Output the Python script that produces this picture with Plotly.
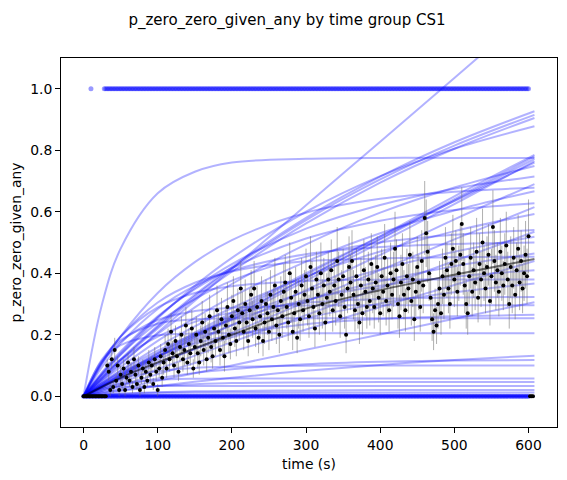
import numpy as np
import plotly.graph_objs as go

KNOT_T = [0, 25, 50, 100, 150, 200, 300, 400, 500, 608]

# one row per fitted curve, values at KNOT_T
CURVES = [
    [0, 0.30, 0.48, 0.66, 0.73, 0.76, 0.772, 0.775, 0.775, 0.775],
    [0, 0.052, 0.104, 0.207, 0.311, 0.414, 0.621, 0.828, 1.035, 1.26],
    [0, 0.061, 0.12, 0.229, 0.33, 0.42, 0.58, 0.714, 0.826, 0.927],
    [0, 0.06, 0.118, 0.225, 0.325, 0.415, 0.573, 0.705, 0.815, 0.915],
    [0, 0.058, 0.115, 0.22, 0.318, 0.405, 0.562, 0.695, 0.805, 0.905],
    [0, 0.07, 0.135, 0.254, 0.359, 0.45, 0.60, 0.716, 0.805, 0.878],
    [0, 0.034, 0.068, 0.135, 0.2, 0.265, 0.395, 0.52, 0.65, 0.785],
    [0, 0.032, 0.064, 0.128, 0.192, 0.256, 0.385, 0.513, 0.641, 0.78],
    [0, 0.033, 0.066, 0.13, 0.195, 0.258, 0.385, 0.51, 0.636, 0.772],
    [0, 0.031, 0.062, 0.125, 0.188, 0.25, 0.376, 0.5, 0.625, 0.765],
    [0, 0.036, 0.071, 0.14, 0.207, 0.272, 0.4, 0.52, 0.635, 0.76],
    [0, 0.055, 0.107, 0.203, 0.289, 0.365, 0.494, 0.597, 0.679, 0.749],
    [0, 0.074, 0.141, 0.257, 0.352, 0.43, 0.545, 0.622, 0.675, 0.715],
    [0, 0.106, 0.195, 0.336, 0.436, 0.508, 0.597, 0.642, 0.665, 0.678],
    [0, 0.03, 0.06, 0.118, 0.176, 0.232, 0.345, 0.46, 0.575, 0.69],
    [0, 0.049, 0.095, 0.18, 0.255, 0.323, 0.438, 0.53, 0.604, 0.667],
    [0, 0.078, 0.146, 0.26, 0.348, 0.417, 0.513, 0.571, 0.606, 0.628],
    [0, 0.026, 0.052, 0.104, 0.155, 0.206, 0.307, 0.41, 0.51, 0.615],
    [0, 0.043, 0.084, 0.16, 0.227, 0.287, 0.39, 0.471, 0.537, 0.593],
    [0, 0.073, 0.136, 0.239, 0.316, 0.376, 0.454, 0.5, 0.525, 0.541],
    [0, 0.022, 0.044, 0.088, 0.132, 0.176, 0.264, 0.352, 0.44, 0.535],
    [0, 0.038, 0.074, 0.14, 0.198, 0.251, 0.341, 0.412, 0.47, 0.519],
    [0, 0.095, 0.172, 0.284, 0.359, 0.408, 0.462, 0.485, 0.495, 0.5],
    [0, 0.036, 0.069, 0.13, 0.183, 0.231, 0.311, 0.374, 0.423, 0.464],
    [0, 0.11, 0.194, 0.305, 0.369, 0.406, 0.439, 0.448, 0.452, 0.454],
    [0, 0.018, 0.036, 0.072, 0.108, 0.145, 0.217, 0.29, 0.362, 0.44],
    [0, 0.043, 0.082, 0.148, 0.203, 0.248, 0.314, 0.359, 0.389, 0.41],
    [0, 0.114, 0.194, 0.289, 0.336, 0.358, 0.375, 0.379, 0.38, 0.38],
    [0, 0.03, 0.058, 0.109, 0.153, 0.192, 0.254, 0.302, 0.338, 0.367],
    [0, 0.066, 0.119, 0.194, 0.242, 0.272, 0.304, 0.316, 0.321, 0.323],
    [0, 0.013, 0.025, 0.05, 0.075, 0.1, 0.151, 0.201, 0.252, 0.306],
    [0, 0.108, 0.177, 0.248, 0.277, 0.288, 0.295, 0.296, 0.296, 0.296],
    [0, 0.042, 0.076, 0.131, 0.171, 0.199, 0.234, 0.251, 0.26, 0.265],
    [0, 0.12, 0.183, 0.236, 0.25, 0.253, 0.254, 0.254, 0.254, 0.254],
    [0, 0.116, 0.166, 0.198, 0.204, 0.205, 0.205, 0.205, 0.205, 0.205],
    [0, 0.009, 0.017, 0.033, 0.047, 0.06, 0.083, 0.102, 0.118, 0.132],
    [0, 0.018, 0.034, 0.058, 0.076, 0.088, 0.104, 0.112, 0.116, 0.118],
    [0, 0.034, 0.057, 0.081, 0.092, 0.096, 0.099, 0.1, 0.1, 0.1],
    [0, 0.027, 0.041, 0.053, 0.057, 0.058, 0.058, 0.058, 0.058, 0.058],
    [0, 0.012, 0.02, 0.033, 0.039, 0.043, 0.045, 0.046, 0.046, 0.046],
    [0, 0.024, 0.03, 0.033, 0.033, 0.033, 0.033, 0.033, 0.033, 0.033],
    [0, 0.004, 0.008, 0.013, 0.016, 0.017, 0.019, 0.02, 0.02, 0.02],
    [0, 0.006, 0.009, 0.011, 0.012, 0.012, 0.012, 0.012, 0.012, 0.012],
    [0, 0, 0, 0, 0, 0, 0, 0, 0, 0],
    [0, 0, 0, 0, 0, 0, 0, 0, 0, 0],
    [0, 0, 0, 0, 0, 0, 0, 0, 0, 0],
]

# raw per-subject values sit at 0 or 1 for each time bin
RAW_ONE_T = [10] + list(range(28, 601, 2))
RAW_ZERO_T = list(range(0, 601, 2))

# group mean per time bin (2 s bins) and its error
MEAN_T = list(range(32, 601, 2))
MEAN_P = [
    0.10, 0.08, 0.02, 0.12, 0.03, 0.15, 0.05, 0.10, 0.02, 0.07, 0.04, 0.09, 0.02, 0.06, 0.11,
    0.05, 0.08, 0.03, 0.12, 0.07, 0.04, 0.10, 0.02, 0.06, 0.09, 0.03, 0.08, 0.05, 0.11, 0.07,
    0.10, 0.04, 0.12, 0.08, 0.02, 0.09, 0.13, 0.06, 0.11, 0.15, 0.09, 0.17, 0.12, 0.21, 0.14,
    0.10, 0.18, 0.13, 0.08, 0.16, 0.20, 0.12, 0.15, 0.23, 0.11, 0.17, 0.14, 0.22, 0.09, 0.16,
    0.20, 0.14, 0.11, 0.18, 0.24, 0.15, 0.21, 0.12, 0.19, 0.26, 0.16, 0.13, 0.22, 0.18, 0.28,
    0.21, 0.15, 0.25, 0.19, 0.13, 0.23, 0.29, 0.20, 0.17, 0.26, 0.31, 0.22, 0.18, 0.28, 0.24,
    0.35, 0.27, 0.21, 0.30, 0.24, 0.18, 0.28, 0.33, 0.25, 0.35, 0.22, 0.29, 0.19, 0.26, 0.31,
    0.18, 0.24, 0.30, 0.27, 0.21, 0.33, 0.25, 0.29, 0.36, 0.23, 0.28, 0.20, 0.31, 0.26, 0.34,
    0.37, 0.29, 0.24, 0.40, 0.32, 0.21, 0.27, 0.34, 0.19, 0.30, 0.25, 0.36, 0.28, 0.33, 0.39,
    0.31, 0.26, 0.42, 0.35, 0.29, 0.22, 0.38, 0.33, 0.27, 0.40, 0.30, 0.36, 0.24, 0.32, 0.38,
    0.34, 0.41, 0.28, 0.36, 0.31, 0.44, 0.38, 0.26, 0.33, 0.39, 0.29, 0.20, 0.35, 0.42, 0.37,
    0.44, 0.33, 0.28, 0.39, 0.30, 0.24, 0.36, 0.27, 0.41, 0.34, 0.29, 0.38, 0.31, 0.43, 0.35,
    0.29, 0.37, 0.42, 0.32, 0.27, 0.39, 0.34, 0.45, 0.31, 0.36, 0.28, 0.40, 0.33, 0.38, 0.48,
    0.41, 0.30, 0.26, 0.37, 0.43, 0.33, 0.28, 0.39, 0.35, 0.46, 0.31, 0.38, 0.25, 0.34, 0.42,
    0.37, 0.29, 0.44, 0.36, 0.58, 0.53, 0.47, 0.40, 0.32, 0.25, 0.21, 0.28, 0.23, 0.30, 0.35,
    0.27, 0.39, 0.33, 0.45, 0.41, 0.35, 0.30, 0.43, 0.48, 0.38, 0.44, 0.34, 0.40, 0.46, 0.56,
    0.43, 0.36, 0.30, 0.27, 0.39, 0.45, 0.34, 0.41, 0.37, 0.47, 0.32, 0.43, 0.38, 0.50, 0.40,
    0.35, 0.42, 0.46, 0.31, 0.39, 0.55, 0.44, 0.37, 0.41, 0.34, 0.47, 0.40, 0.36, 0.43, 0.49,
    0.38, 0.30, 0.42, 0.36, 0.45, 0.33, 0.41, 0.48, 0.37, 0.44, 0.35, 0.40, 0.46, 0.39, 0.52,
]
MEAN_ERR = [
    0.02, 0.03, 0.02, 0.03, 0.02, 0.04, 0.02, 0.03, 0.02, 0.03, 0.02, 0.03, 0.02, 0.02, 0.03,
    0.02, 0.03, 0.02, 0.04, 0.03, 0.02, 0.03, 0.02, 0.02, 0.03, 0.02, 0.03, 0.02, 0.04, 0.03,
    0.03, 0.02, 0.04, 0.03, 0.02, 0.03, 0.04, 0.03, 0.04, 0.05, 0.03, 0.05, 0.04, 0.06, 0.04,
    0.04, 0.05, 0.04, 0.03, 0.05, 0.06, 0.04, 0.05, 0.06, 0.04, 0.05, 0.04, 0.06, 0.03, 0.05,
    0.06, 0.05, 0.04, 0.05, 0.07, 0.05, 0.06, 0.04, 0.05, 0.07, 0.05, 0.04, 0.06, 0.05, 0.08,
    0.06, 0.05, 0.07, 0.06, 0.05, 0.06, 0.08, 0.06, 0.05, 0.07, 0.08, 0.06, 0.05, 0.07, 0.06,
    0.09, 0.07, 0.06, 0.08, 0.06, 0.05, 0.07, 0.08, 0.06, 0.09, 0.06, 0.07, 0.05, 0.07, 0.08,
    0.05, 0.07, 0.08, 0.07, 0.06, 0.08, 0.07, 0.07, 0.09, 0.06, 0.07, 0.06, 0.08, 0.07, 0.09,
    0.09, 0.07, 0.06, 0.10, 0.08, 0.06, 0.07, 0.08, 0.05, 0.08, 0.07, 0.09, 0.07, 0.08, 0.09,
    0.08, 0.07, 0.10, 0.09, 0.07, 0.06, 0.09, 0.08, 0.07, 0.10, 0.08, 0.09, 0.06, 0.08, 0.09,
    0.08, 0.10, 0.07, 0.09, 0.08, 0.11, 0.09, 0.07, 0.08, 0.09, 0.07, 0.06, 0.08, 0.10, 0.09,
    0.10, 0.08, 0.07, 0.09, 0.08, 0.07, 0.09, 0.07, 0.10, 0.08, 0.07, 0.09, 0.08, 0.10, 0.08,
    0.07, 0.09, 0.10, 0.08, 0.07, 0.09, 0.08, 0.11, 0.08, 0.09, 0.07, 0.10, 0.08, 0.09, 0.12,
    0.10, 0.08, 0.07, 0.09, 0.10, 0.08, 0.07, 0.09, 0.08, 0.11, 0.08, 0.09, 0.07, 0.08, 0.10,
    0.09, 0.08, 0.10, 0.09, 0.12, 0.11, 0.10, 0.09, 0.08, 0.07, 0.06, 0.07, 0.06, 0.08, 0.09,
    0.07, 0.09, 0.08, 0.10, 0.09, 0.08, 0.08, 0.10, 0.11, 0.09, 0.10, 0.08, 0.09, 0.10, 0.12,
    0.10, 0.09, 0.08, 0.07, 0.09, 0.10, 0.08, 0.09, 0.09, 0.11, 0.08, 0.10, 0.09, 0.11, 0.09,
    0.08, 0.10, 0.10, 0.08, 0.09, 0.12, 0.10, 0.09, 0.09, 0.08, 0.11, 0.09, 0.08, 0.10, 0.11,
    0.09, 0.08, 0.10, 0.09, 0.10, 0.08, 0.09, 0.11, 0.09, 0.10, 0.08, 0.09, 0.11, 0.09, 0.12,
]
# bins with no events yet / at the very end
EMPTY_T = [0, 2, 4, 6, 8, 10, 12, 14, 16, 18, 20, 22, 24, 26, 28, 30, 602, 604, 606]
EMPTY_P = [0] * len(EMPTY_T)

# group fit
FIT_T = [0, 50, 100, 200, 300, 400, 500, 608]
FIT_P = [0, 0.06, 0.11, 0.2, 0.285, 0.345, 0.395, 0.446]

FONT = "DejaVu Sans"

data = []
for vals in CURVES:
    data.append(go.Scatter(
        x=KNOT_T, y=vals, mode='lines',
        line=dict(color='rgba(0,0,255,0.3)', width=2, shape='spline', smoothing=1),
        hoverinfo='skip', showlegend=False))

data.append(go.Scatter(
    x=RAW_ONE_T, y=[1] * len(RAW_ONE_T), mode='markers',
    marker=dict(color='rgba(0,0,255,0.4)', size=5, line=dict(width=0)),
    showlegend=False))
data.append(go.Scatter(
    x=RAW_ZERO_T, y=[0] * len(RAW_ZERO_T), mode='markers',
    marker=dict(color='rgba(0,0,255,0.4)', size=5, line=dict(width=0)),
    showlegend=False))

data.append(go.Scatter(
    x=MEAN_T, y=MEAN_P, mode='markers',
    error_y=dict(type='data', array=MEAN_ERR, color='rgba(110,110,110,0.55)',
                 thickness=1, width=0),
    marker=dict(color='black', size=4, line=dict(width=0)),
    showlegend=False))
data.append(go.Scatter(
    x=EMPTY_T, y=EMPTY_P, mode='markers',
    marker=dict(color='black', size=4, line=dict(width=0)),
    showlegend=False))

data.append(go.Scatter(
    x=FIT_T, y=FIT_P, mode='lines',
    line=dict(color='rgba(0,0,0,0.55)', width=2, shape='spline'),
    showlegend=False))

axis_common = dict(
    showline=True, mirror=True, linecolor='black', linewidth=1,
    ticks='outside', ticklen=5, tickwidth=1, tickcolor='black',
    showgrid=False, zeroline=False, automargin=False,
    tickfont=dict(family=FONT, size=13.9, color='black'),
)

# page body adds an 8 px offset, so margins are shifted by that amount
layout = go.Layout(
    width=567, height=480,
    margin=dict(l=53, r=18, t=50, b=61),
    paper_bgcolor='white', plot_bgcolor='white',
    title=dict(text='p_zero_zero_given_any by time group CS1',
               x=279 / 567, xanchor='center', xref='container',
               y=1 - 12 / 480, yanchor='middle', yref='container',
               font=dict(family=FONT, size=15, color='black')),
    xaxis=dict(axis_common, range=[-30.4, 638.4],
               tickvals=[0, 100, 200, 300, 400, 500, 600],
               title=dict(text='time (s)', standoff=7,
                          font=dict(family=FONT, size=13.9, color='black'))),
    yaxis=dict(axis_common, range=[-0.1, 1.1],
               tickvals=[0, 0.2, 0.4, 0.6, 0.8, 1.0],
               ticktext=['0.0', '0.2', '0.4', '0.6', '0.8', '1.0'],
               title=dict(text='p_zero_zero_given_any', standoff=6,
                          font=dict(family=FONT, size=13.9, color='black'))),
)

fig = go.Figure(data=data, layout=layout)
fig.write_html("out.html")
